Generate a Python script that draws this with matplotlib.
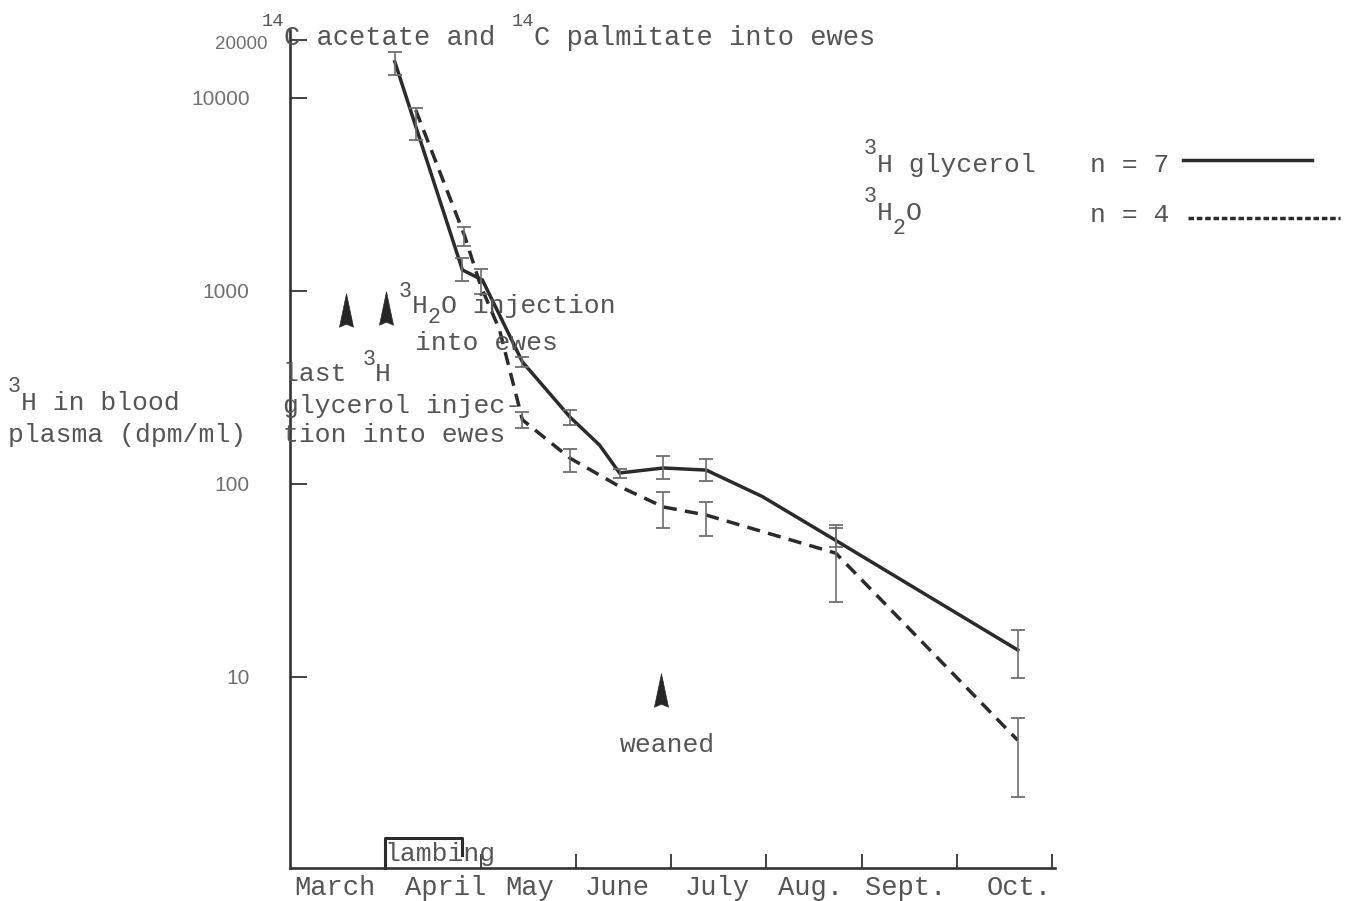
import matplotlib
matplotlib.use('Agg')
import matplotlib.pyplot as plt
import numpy as np
from matplotlib.lines import Line2D
from matplotlib.ticker import NullLocator, FixedLocator

plt.rcParams['font.family'] = ['Liberation Mono', 'DejaVu Sans Mono']

# ---- data (x in months from start of March) ----
months = ['March', 'April', 'May', 'June', 'July', 'Aug.', 'Sept.', 'Oct.']
month_label_pos = [0.47, 1.63, 2.52, 3.44, 4.49, 5.46, 6.46, 7.66]
month_ticks = [1, 2, 3, 4, 5, 6, 7, 8]

gly_x = [1.10, 1.81, 2.02, 2.44, 2.94, 3.25, 3.46, 3.92, 4.37, 4.96, 5.73, 7.64]
gly_y = [15400, 1285, 1140, 429, 222, 159, 114, 121, 118, 86, 51, 13.8]
gly_err_x = [1.10, 1.81, 2.44, 2.94, 3.46, 3.92, 4.37, 5.73, 7.64]
gly_err_lo = [13200, 1120, 405, 202, 108, 106, 104, 47, 9.9]
gly_err_hi = [17300, 1480, 455, 242, 120, 139, 134, 61, 17.6]

h2o_x = [1.32, 1.83, 2.00, 2.20, 2.44, 2.94, 3.46, 3.92, 4.37, 5.73, 7.64]
h2o_y = [8660, 1950, 1070, 628, 215, 136, 97, 76, 69, 43.8, 4.7]
h2o_err_x = [1.32, 1.83, 2.00, 2.44, 2.94, 3.92, 4.37, 5.73, 7.64]
h2o_err_lo = [6050, 1700, 960, 195, 116, 59, 54, 24.6, 2.4]
h2o_err_hi = [8900, 2150, 1300, 235, 152, 91, 81, 59, 6.1]

ytick_vals = [10, 100, 1000, 10000, 20000]
ytick_labels = ['10', '100', '1000', '10000', '']

arrow_x = [0.59, 1.01, 3.90]
arrow_y = [798, 817, 8.57]

LINE = '#2b2b2b'
TEXT = '#555555'
ERR = '#6e6e6e'
NUM = '#707070'
FS = 19

W, H = 1347, 901
fig = plt.figure(figsize=(W / 100, H / 100), dpi=100)
ax = fig.add_axes([290 / W, (H - 868) / H, 765 / W, 838 / H])
ax.set_yscale('log')
ax.set_xlim(0, 765 / 95.25)
ax.set_ylim(1.024, 22490)

# lines
ax.plot(gly_x, gly_y, color=LINE, lw=2.5, solid_joinstyle='miter')
ax.plot(h2o_x, h2o_y, color=LINE, lw=2.5, dashes=(3.8, 2.4))

# error bars
for ex, lo, hi in [(gly_err_x, gly_err_lo, gly_err_hi), (h2o_err_x, h2o_err_lo, h2o_err_hi)]:
    lo = np.array(lo); hi = np.array(hi)
    ax.errorbar(ex, lo, yerr=[np.zeros_like(lo), hi - lo], fmt='none',
                ecolor=ERR, elinewidth=1.2, capsize=5, capthick=1.3)

# arrowheads
arrow_marker = [(0, 1), (0.42, -1), (0, -0.82), (-0.42, -1), (0, 1)]
ax.plot(arrow_x, arrow_y, ls='none', marker=arrow_marker, ms=24,
        color='#262626', mec='#262626', mew=0.5)

# lambing box
ax.plot([1.0, 1.0, 1.81, 1.81], [1.024, 1.47, 1.47, 1.2], color=LINE, lw=2.2,
        clip_on=False)

# axes styling
for s in ['top', 'right']:
    ax.spines[s].set_visible(False)
for s in ['left', 'bottom']:
    ax.spines[s].set_linewidth(1.9)
    ax.spines[s].set_color('#333333')

ax.yaxis.set_major_locator(FixedLocator(ytick_vals))
ax.yaxis.set_minor_locator(NullLocator())
ax.set_yticklabels(ytick_labels)
ax.tick_params(axis='y', which='major', direction='in', length=12, width=1.3,
               color='#333333', pad=29, labelsize=15, labelcolor=NUM)
for lbl in ax.get_yticklabels():
    lbl.set_family('Liberation Sans')

ax.set_xticks(month_ticks)
ax.set_xticklabels([''] * len(month_ticks))
ax.set_xticks(month_label_pos, minor=True)
ax.set_xticklabels(months, minor=True)
ax.tick_params(axis='x', which='major', direction='in', length=10, width=1.3, color='#333333')
ax.tick_params(axis='x', which='minor', length=0, pad=5, labelsize=19.5, labelcolor=TEXT)


# typewriter-style text with raised/lowered characters (figure pixel coords)
def tw(px, py, parts, fs=FS, sup_fs=None, sup_dy=-16, sub_dy=12, color=TEXT):
    x = px
    sup_fs = sup_fs or fs * 0.82
    for s, kind in parts:
        if kind == 'sup':
            size, dy = sup_fs, sup_dy
        elif kind == 'sub':
            size, dy = fs * 0.82, sub_dy
        else:
            size, dy = fs, 0
        fig.text(x / W, 1 - (py + dy) / H, s, fontsize=size, color=color,
                 va='baseline', ha='left')
        x += len(s) * 0.6 * size * 100 / 72


fig.text(268 / W, 1 - 49 / H, '20000', fontsize=13.5, color=NUM, va='baseline',
         ha='right', family='Liberation Sans')

tw(262, 45, [('14', 'sup'), ('C acetate and ', 'n'), ('14', 'sup'),
             ('C palmitate into ewes', 'n')], fs=19.5, sup_fs=13.5, sup_dy=-19)
tw(8, 410, [('3', 'sup'), ('H in blood', 'n')], sup_dy=-18)
tw(8, 442, [('plasma (dpm/ml)', 'n')])
tw(864, 172, [('3', 'sup'), ('H glycerol', 'n')], sup_dy=-18)
tw(1090, 172, [('n = 7', 'n')])
tw(864, 220, [('3', 'sup'), ('H', 'n'), ('2', 'sub'), ('O', 'n')], sup_dy=-18, sub_dy=14)
tw(1090, 222, [('n = 4', 'n')])

tw(399, 313, [('3', 'sup'), ('H', 'n'), ('2', 'sub'), ('O injection', 'n')], sub_dy=10)
tw(415, 350, [('into ewes', 'n')])
tw(283, 381, [('last ', 'n'), ('3', 'sup'), ('H', 'n')])
tw(283, 413, [('glycerol injec-', 'n')])
tw(283, 442, [('tion into ewes', 'n')])
tw(620, 752, [('weaned', 'n')])
tw(385, 861, [('lambing', 'n')])

fig.add_artist(Line2D([1183 / W, 1312 / W], [1 - 160 / H, 1 - 160 / H], color=LINE, lw=2.5))
fig.add_artist(Line2D([1188 / W, 1340 / W], [1 - 218 / H, 1 - 218 / H], color=LINE, lw=2.5,
                      dashes=(1.6, 0.8)))

fig.savefig('out.png', dpi=100, facecolor='white')
